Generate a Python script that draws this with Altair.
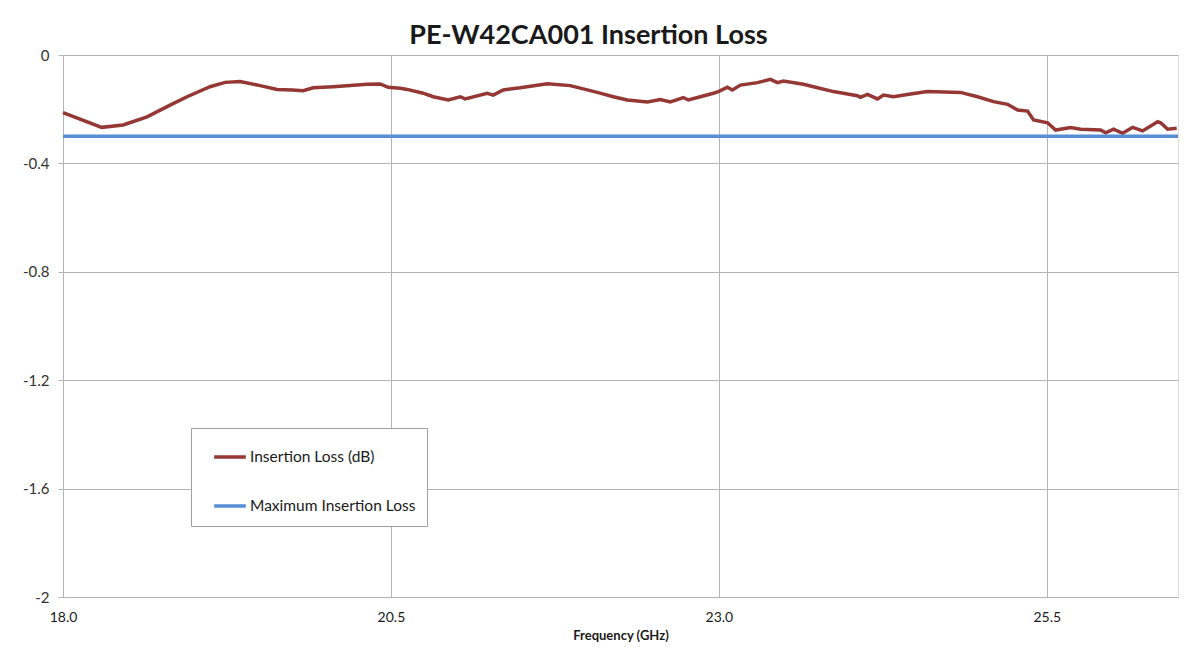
import altair as alt
import pandas as pd

freq_ghz = [18.000, 18.295, 18.458, 18.641, 18.816, 18.946, 19.121, 19.236, 19.350, 19.503,
            19.632, 19.747, 19.831, 19.907, 20.060, 20.319, 20.418, 20.479, 20.571, 20.624,
            20.746, 20.822, 20.937, 21.028, 21.066, 21.234, 21.280, 21.356, 21.486, 21.692,
            21.867, 22.073, 22.195, 22.302, 22.455, 22.554, 22.630, 22.729, 22.767, 22.859,
            22.958, 22.996, 23.065, 23.103, 23.164, 23.294, 23.393, 23.446, 23.492, 23.645,
            23.721, 23.873, 24.056, 24.079, 24.133, 24.209, 24.255, 24.331, 24.461, 24.590,
            24.842, 24.972, 25.094, 25.201, 25.277, 25.353, 25.399, 25.506, 25.567, 25.681,
            25.758, 25.910, 25.948, 26.009, 26.078, 26.154, 26.230, 26.345, 26.368, 26.421,
            26.490]
insertion_loss_db = [-0.213, -0.267, -0.258, -0.228, -0.185, -0.154, -0.117, -0.101, -0.098, -0.113,
                     -0.127, -0.129, -0.132, -0.121, -0.117, -0.108, -0.107, -0.119, -0.123, -0.127,
                     -0.141, -0.154, -0.166, -0.154, -0.162, -0.141, -0.148, -0.129, -0.121, -0.106,
                     -0.113, -0.138, -0.154, -0.166, -0.173, -0.164, -0.173, -0.157, -0.166, -0.154,
                     -0.141, -0.135, -0.119, -0.129, -0.111, -0.102, -0.090, -0.102, -0.096, -0.108,
                     -0.117, -0.135, -0.150, -0.156, -0.145, -0.162, -0.148, -0.154, -0.144, -0.135,
                     -0.138, -0.154, -0.172, -0.182, -0.203, -0.207, -0.240, -0.250, -0.277, -0.268,
                     -0.274, -0.277, -0.287, -0.274, -0.289, -0.267, -0.280, -0.246, -0.250, -0.274,
                     -0.270]
max_freq = [18.0, 26.5]
max_loss = [-0.3, -0.3]

series_names = ["Insertion Loss (dB)", "Maximum Insertion Loss"]
series_colors = ["#953735", "#558ed5"]
x_ticks = [18.0, 20.5, 23.0, 25.5]
y_ticks = [0, -0.4, -0.8, -1.2, -1.6, -2]

df = pd.concat([
    pd.DataFrame({"freq": freq_ghz, "loss": insertion_loss_db, "series": series_names[0]}),
    pd.DataFrame({"freq": max_freq, "loss": max_loss, "series": series_names[1]}),
])

FONT = "Lato"
GRID = "#b4b4b4"

chart = alt.Chart(df).mark_line(strokeWidth=3.5).encode(
    x=alt.X("freq:Q",
            scale=alt.Scale(domain=[18, 26.5], nice=False, zero=False),
            axis=alt.Axis(values=x_ticks, format=".1f", title="Frequency (GHz)",
                          ticks=False, labelPadding=13, labelFlush=False, grid=True,
                          gridColor=GRID, domainColor=GRID, labelFontSize=14,
                          labelColor="#1a1a1a", titleFontSize=13, titleFontWeight="bold",
                          titlePadding=5, titleColor="#1a1a1a", labelFont=FONT,
                          titleFont=FONT)),
    y=alt.Y("loss:Q",
            scale=alt.Scale(domain=[-2, 0], nice=False, zero=False),
            axis=alt.Axis(values=y_ticks, labelExpr="'' + datum.value", title=None,
                          tickSize=5, tickColor=GRID, labelPadding=9, grid=True,
                          gridColor=GRID, domainColor=GRID, labelFontSize=15,
                          labelColor="#333333", labelFont=FONT)),
    color=alt.Color("series:N",
                    scale=alt.Scale(domain=series_names, range=series_colors),
                    legend=alt.Legend(title=None, orient="none", legendX=128, legendY=373,
                                      symbolType="stroke", symbolSize=1000,
                                      symbolStrokeWidth=3.5, symbolOffset=10,
                                      labelFontSize=15.5, labelFont=FONT,
                                      labelColor="#1a1a1a", labelOffset=2,
                                      rowPadding=22, padding=11, fillColor="white",
                                      strokeColor="#a0a0a0", labelLimit=300)),
).properties(
    width=1115,
    height=542,
    title=alt.TitleParams("PE-W42CA001 Insertion Loss", fontSize=27, font=FONT,
                          fontWeight="bold", color="#1a1a1a", anchor="middle",
                          dx=-32, offset=-2),
    autosize=alt.AutoSizeParams(type="none"),
    padding={"left": 55, "top": 47, "right": 18, "bottom": 50},
).configure_view(stroke=GRID, strokeWidth=1).configure(background="white")

chart.save("out.html", embed_options={"renderer": "svg", "actions": False})
